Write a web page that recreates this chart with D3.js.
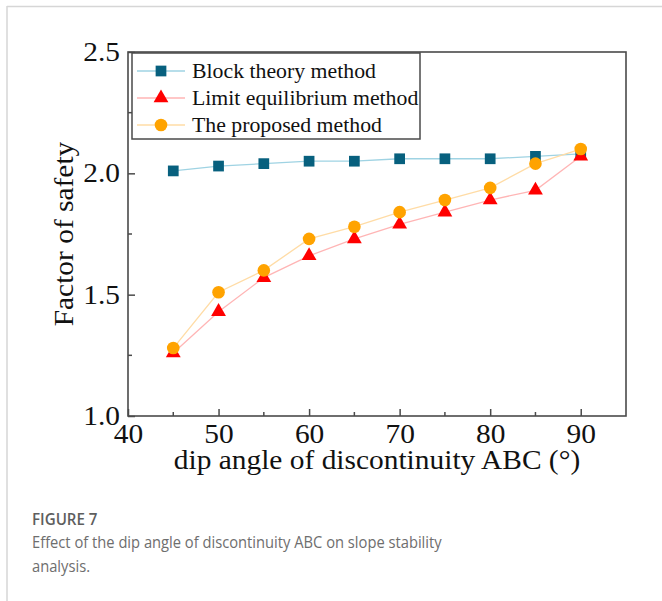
<!DOCTYPE html>
<html>
<head>
<meta charset="utf-8">
<script src="https://cdn.jsdelivr.net/npm/d3@7"></script>
<style>
  body { margin: 0; background: #fff; }
  #chart { position: absolute; left: 0; top: 0; }
</style>
</head>
<body>
<div id="chart"></div>
<script>
// dip angle (degrees)
var angles = [45, 50, 55, 60, 65, 70, 75, 80, 85, 90];
var blockTheory = [2.01, 2.03, 2.04, 2.05, 2.05, 2.06, 2.06, 2.06, 2.07, 2.08];
var limitEquilibrium = [1.26, 1.43, 1.57, 1.66, 1.73, 1.79, 1.84, 1.89, 1.93, 2.07];
var proposed = [1.28, 1.51, 1.60, 1.73, 1.78, 1.84, 1.89, 1.94, 2.04, 2.10];
var xTicks = [40, 50, 60, 70, 80, 90];
var yTicks = [1.0, 1.5, 2.0, 2.5];
var seriesNames = ['Block theory method', 'Limit equilibrium method', 'The proposed method'];

var W = 662, H = 601;
var margin = {left: 128, right: 36, top: 52, bottom: 186};
var stretchX = 1.09; // serif text in the figure is a bit wider than Liberation Serif

var svg = d3.select('#chart').append('svg')
    .attr('width', W)
    .attr('height', H);

// card border (top + left)
svg.append('line').attr('x1', 7).attr('x2', W).attr('y1', 6.5).attr('y2', 6.5)
    .attr('stroke', '#d6d6d6').attr('stroke-width', 1.5);
svg.append('line').attr('x1', 7).attr('x2', 7).attr('y1', 6).attr('y2', H)
    .attr('stroke', '#d6d6d6').attr('stroke-width', 1.5);

var x = d3.scaleLinear()
    .domain([40, 95])
    .range([margin.left, W - margin.right]);

var y = d3.scaleLinear()
    .domain([1.0, 2.5])
    .range([H - margin.bottom + 1, margin.top]);

var serif = 'Liberation Serif, Times New Roman, serif';
var axisColor = '#4a4a4a';

function widen(sel, k) {
    k = k || stretchX;
    sel.attr('transform', function () {
        var tx = +this.getAttribute('x') || 0;
        return 'translate(' + tx + ',0) scale(' + k + ',1) translate(' + (-tx) + ',0)';
    });
}

var g = svg.append('g');

// ticks point inward
var xAxis = d3.axisBottom(x).tickValues(xTicks).tickSizeInner(-7).tickSizeOuter(0)
    .tickPadding(8).tickFormat(d3.format('d'));
var xAxisG = g.append('g')
    .attr('transform', 'translate(0,' + y(1.0) + ')')
    .call(xAxis);
xAxisG.select('.domain').remove();
xAxisG.selectAll('line').attr('stroke', axisColor).attr('stroke-width', 1.5);
xAxisG.selectAll('text').attr('font-family', serif).attr('font-size', 27).attr('fill', '#111')
    .call(widen);

g.selectAll('.xminor')
    .data(d3.range(45, 95, 10))
    .enter().append('line')
    .attr('class', 'xminor')
    .attr('x1', function (d) { return x(d); })
    .attr('x2', function (d) { return x(d); })
    .attr('y1', y(1.0))
    .attr('y2', y(1.0) - 4)
    .attr('stroke', axisColor).attr('stroke-width', 1.5);

var yAxis = d3.axisLeft(y).tickValues(yTicks).tickSizeInner(-7).tickSizeOuter(0)
    .tickPadding(8).tickFormat(d3.format('.1f'));
var yAxisG = g.append('g')
    .attr('transform', 'translate(' + x(40) + ',0)')
    .call(yAxis);
yAxisG.select('.domain').remove();
yAxisG.selectAll('line').attr('stroke', axisColor).attr('stroke-width', 1.5);
yAxisG.selectAll('text').attr('font-family', serif).attr('font-size', 27).attr('fill', '#111')
    .call(widen);

g.selectAll('.yminor')
    .data([1.25, 1.75, 2.25])
    .enter().append('line')
    .attr('class', 'yminor')
    .attr('x1', x(40))
    .attr('x2', x(40) + 4)
    .attr('y1', function (d) { return y(d); })
    .attr('y2', function (d) { return y(d); })
    .attr('stroke', axisColor).attr('stroke-width', 1.5);

// frame
g.append('rect')
    .attr('x', x(40))
    .attr('y', y(2.5))
    .attr('width', x(95) - x(40))
    .attr('height', y(1.0) - y(2.5))
    .attr('fill', 'none')
    .attr('stroke', axisColor)
    .attr('stroke-width', 1.6);

// axis titles
g.append('text')
    .attr('x', (x(40) + x(95)) / 2)
    .attr('y', 469)
    .attr('text-anchor', 'middle')
    .attr('font-family', serif)
    .attr('font-size', 27)
    .attr('fill', '#111')
    .text('dip angle of discontinuity ABC (°)')
    .call(widen);

g.append('text')
    .attr('transform', 'translate(73,' + (y(1.75)) + ') rotate(-90) scale(' + stretchX + ',1)')
    .attr('text-anchor', 'middle')
    .attr('font-family', serif)
    .attr('font-size', 27)
    .attr('fill', '#111')
    .text('Factor of safety');

var series = [
    {name: seriesNames[0], values: blockTheory, line: '#9fd3e3', marker: '#07607e', symbol: d3.symbolSquare, size: 115},
    {name: seriesNames[1], values: limitEquilibrium, line: '#ffb5b5', marker: '#ff0000', symbol: d3.symbolTriangle, size: 95},
    {name: seriesNames[2], values: proposed, line: '#ffdca6', marker: '#ffa300', symbol: d3.symbolCircle, size: 125}
];

var line = d3.line()
    .x(function (d) { return x(d[0]); })
    .y(function (d) { return y(d[1]); });

series.forEach(function (s) {
    var pts = angles.map(function (a, i) { return [a, s.values[i]]; });
    g.append('path')
        .datum(pts)
        .attr('d', line)
        .attr('fill', 'none')
        .attr('stroke', s.line)
        .attr('stroke-width', 1.3);
    g.selectAll(null)
        .data(pts)
        .enter().append('path')
        .attr('transform', function (d) { return 'translate(' + x(d[0]) + ',' + y(d[1]) + ')'; })
        .attr('d', d3.symbol().type(s.symbol).size(s.size))
        .attr('fill', s.marker);
});

// legend
var legend = g.append('g');
legend.append('rect')
    .attr('x', 132).attr('y', 53)
    .attr('width', 288).attr('height', 86)
    .attr('fill', '#fff')
    .attr('stroke', axisColor)
    .attr('stroke-width', 1.5);

series.forEach(function (s, i) {
    var cy = 71 + i * 27;
    legend.append('line')
        .attr('x1', 137).attr('x2', 185)
        .attr('y1', cy).attr('y2', cy)
        .attr('stroke', s.line).attr('stroke-width', 1.3);
    legend.append('path')
        .attr('transform', 'translate(161,' + cy + ')')
        .attr('d', d3.symbol().type(s.symbol).size(s.size))
        .attr('fill', s.marker);
    legend.append('text')
        .attr('x', 192)
        .attr('y', cy + 7)
        .attr('font-family', serif)
        .attr('font-size', 20)
        .attr('fill', '#111')
        .text(s.name)
        .call(widen);
});

// caption (narrow sans in the original, so squeeze Open Sans a little)
var sans = 'Open Sans, Noto Sans, sans-serif';
svg.append('text')
    .attr('x', 32).attr('y', 525)
    .attr('font-family', sans)
    .attr('font-size', 17)
    .attr('font-weight', 600)
    .attr('fill', '#5e5e5e')
    .text('FIGURE 7')
    .call(widen, 0.89);
svg.append('text')
    .attr('x', 32).attr('y', 548)
    .attr('font-family', sans)
    .attr('font-size', 16)
    .attr('fill', '#6e6e6e')
    .text('Effect of the dip angle of discontinuity ABC on slope stability')
    .call(widen, 0.92);
svg.append('text')
    .attr('x', 32).attr('y', 572)
    .attr('font-family', sans)
    .attr('font-size', 16)
    .attr('fill', '#6e6e6e')
    .text('analysis.')
    .call(widen, 0.92);
</script>
</body>
</html>
